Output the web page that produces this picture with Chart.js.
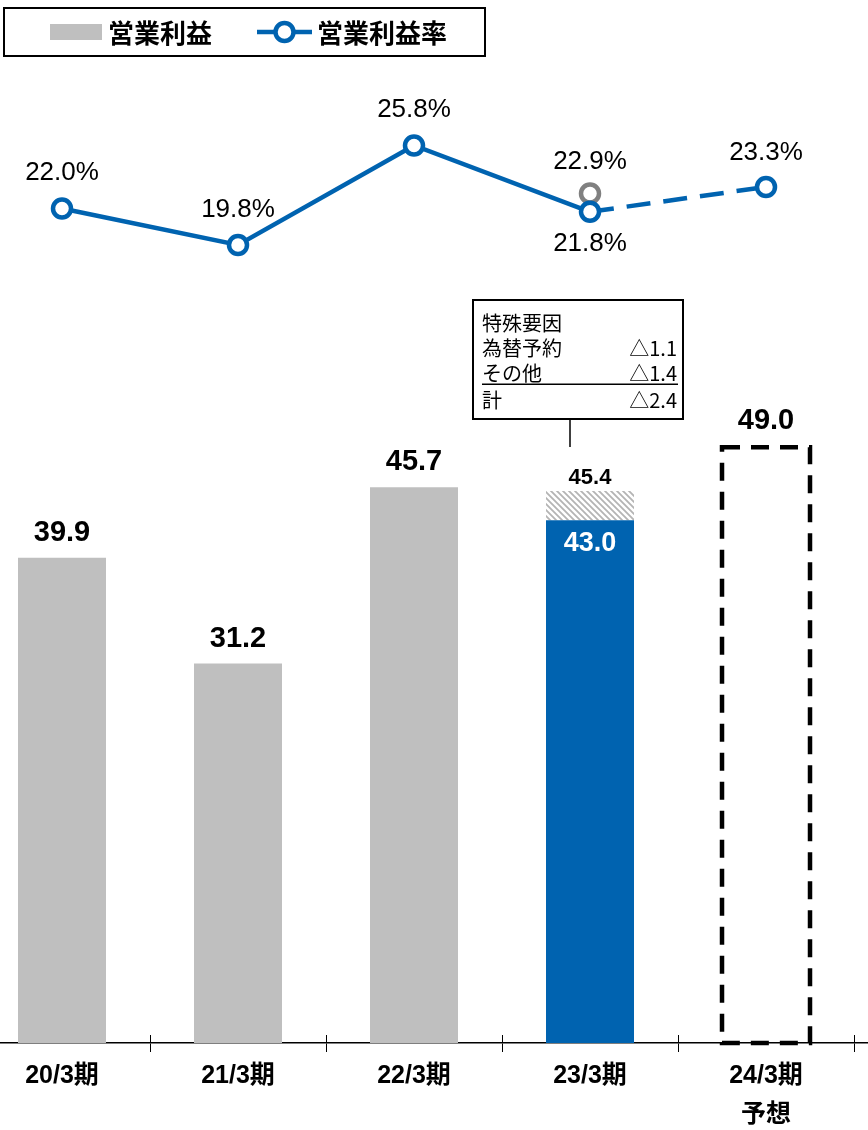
<!DOCTYPE html>
<html lang="ja">
<head>
<meta charset="utf-8">
<title>営業利益・営業利益率</title>
<script src="https://cdn.jsdelivr.net/npm/chart.js@4.4.0/dist/chart.umd.min.js"></script>
<style>
  html, body { margin: 0; padding: 0; background: #ffffff; }
  #wrap { width: 868px; height: 1130px; }
  canvas { display: block; }
</style>
</head>
<body>
<div id="wrap"><canvas id="chart" width="868" height="1130"></canvas></div>
<script>
// ---- data ----
const periods = ['20/3期', '21/3期', '22/3期', '23/3期', '24/3期'];
const periodNotes = ['', '', '', '', '予想'];
const profitActual = [39.9, 31.2, 45.7, 43.0];      // 営業利益 (20/3期〜23/3期)
const profitExSpecial = 45.4;                      // 23/3期 特殊要因を除く
const profitForecast = 49.0;                       // 24/3期 予想
const marginRate = [22.0, 19.8, 25.8, 21.8, 23.3]; // 営業利益率 (%)
const marginExSpecial = 22.9;                      // 23/3期 特殊要因を除く (%)
const specialFactorRows = ['特殊要因', '為替予約', 'その他', '計'];
const specialFactorValues = ['', '△1.1', '△1.4', '△2.4'];

// ---- colours ----
const BLUE = '#0063b0';
const GRAY = '#bfbfbf';
const RING_GRAY = '#808080';

const lastActual = profitActual.length - 1;
const forecastIdx = periods.length - 1;

const canvas = document.getElementById('chart');
const ctx0 = canvas.getContext('2d');

function hatchPattern() {
  const s = 6;
  const c = document.createElement('canvas');
  c.width = s; c.height = s;
  const g = c.getContext('2d');
  g.fillStyle = '#ffffff';
  g.fillRect(0, 0, s, s);
  g.strokeStyle = '#b4b4b4';
  g.lineWidth = 1.8;
  g.beginPath();
  g.moveTo(-s, 0); g.lineTo(s, 2 * s);
  g.moveTo(0, 0); g.lineTo(s, s);
  g.moveTo(0, -s); g.lineTo(2 * s, s);
  g.stroke();
  return ctx0.createPattern(c, 'repeat');
}

// value labels next to bars / points
const valueLabelPlugin = {
  id: 'valueLabels',
  afterDatasetsDraw(chart) {
    const ctx = chart.ctx;
    chart.data.datasets.forEach((ds, di) => {
      const cfg = ds.valueLabel;
      if (!cfg) return;
      const meta = chart.getDatasetMeta(di);
      meta.data.forEach((el, i) => {
        const raw = ds.data[i].y;
        const v = Array.isArray(raw) ? raw[1] : raw;
        const off = Array.isArray(cfg.offset) ? cfg.offset[i] : cfg.offset;
        ctx.save();
        ctx.font = cfg.font;
        ctx.fillStyle = cfg.color;
        ctx.textAlign = 'center';
        ctx.textBaseline = 'middle';
        ctx.fillText(v.toFixed(1) + (cfg.suffix || ''), el.x, el.y + off);
        ctx.restore();
      });
    });
  }
};

// dashed outline for the forecast bar
const dashedBarPlugin = {
  id: 'dashedBar',
  afterDatasetsDraw(chart) {
    const ctx = chart.ctx;
    chart.data.datasets.forEach((ds, di) => {
      if (!ds.dashedOutline) return;
      chart.getDatasetMeta(di).data.forEach(el => {
        const p = el.getProps(['x', 'y', 'base', 'width'], true);
        ctx.save();
        ctx.strokeStyle = '#000000';
        ctx.lineWidth = 4.5;
        ctx.setLineDash([18, 11]);
        ctx.strokeRect(p.x - p.width / 2, p.y, p.width, p.base - p.y);
        ctx.restore();
      });
    });
  }
};

// tick marks that cross the category axis line
const crossTickPlugin = {
  id: 'crossTicks',
  afterDraw(chart) {
    const x = chart.scales.x;
    const ctx = chart.ctx;
    const bottom = chart.chartArea.bottom;
    ctx.save();
    ctx.strokeStyle = '#000000';
    ctx.lineWidth = 1;
    periods.forEach((p, i) => {
      const px = Math.round(x.getPixelForValue(i + 0.5)) + 0.5;
      if (px > chart.chartArea.right) return;
      ctx.beginPath();
      ctx.moveTo(px, bottom - 8);
      ctx.lineTo(px, bottom);
      ctx.stroke();
    });
    ctx.restore();
  }
};

// boxed legend at top-left
const boxedLegendPlugin = {
  id: 'boxedLegend',
  afterDraw(chart, args, o) {
    const ctx = chart.ctx;
    const barDs = chart.data.datasets.find(d => d.id === 'profit');
    const rateDs = chart.data.datasets.find(d => d.id === 'rate');
    const cy = o.top + o.height / 2;
    ctx.save();
    ctx.lineWidth = 2;
    ctx.strokeStyle = '#000000';
    ctx.strokeRect(o.left, o.top, o.width, o.height);

    ctx.fillStyle = barDs.backgroundColor;
    ctx.fillRect(o.barSwatchX, cy - 8, 52, 16);
    ctx.font = o.font;
    ctx.fillStyle = '#000000';
    ctx.textAlign = 'left';
    ctx.textBaseline = 'middle';
    ctx.fillText(barDs.label, o.barTextX, cy + 1);

    ctx.strokeStyle = rateDs.borderColor;
    ctx.lineWidth = rateDs.borderWidth;
    ctx.beginPath();
    ctx.moveTo(o.lineSwatchX, cy);
    ctx.lineTo(o.lineSwatchX + 55, cy);
    ctx.stroke();
    ctx.beginPath();
    ctx.arc(o.lineSwatchX + 27.5, cy, rateDs.pointRadius, 0, Math.PI * 2);
    ctx.fillStyle = rateDs.pointBackgroundColor;
    ctx.fill();
    ctx.lineWidth = rateDs.pointBorderWidth;
    ctx.strokeStyle = rateDs.pointBorderColor;
    ctx.stroke();
    ctx.fillStyle = '#000000';
    ctx.fillText(rateDs.label, o.lineTextX, cy + 1);
    ctx.restore();
  }
};

// callout listing the special factors of 23/3期
const calloutPlugin = {
  id: 'specialCallout',
  afterDatasetsDraw(chart, args, o) {
    const ctx = chart.ctx;
    ctx.save();
    ctx.fillStyle = '#ffffff';
    ctx.fillRect(o.left, o.top, o.width, o.height);
    ctx.lineWidth = 2;
    ctx.strokeStyle = '#000000';
    ctx.strokeRect(o.left, o.top, o.width, o.height);
    // leader line
    ctx.lineWidth = 1.5;
    ctx.beginPath();
    ctx.moveTo(o.leaderX, o.top + o.height);
    ctx.lineTo(o.leaderX, o.top + o.height + o.leaderLen);
    ctx.stroke();
    // rows
    ctx.font = o.font;
    ctx.fillStyle = '#000000';
    ctx.textBaseline = 'middle';
    specialFactorRows.forEach((t, i) => {
      const y = o.top + o.firstRow + i * o.rowGap + (i === specialFactorRows.length - 1 ? 2 : 0);
      ctx.textAlign = 'left';
      ctx.fillText(t, o.left + 9, y);
      ctx.textAlign = 'right';
      ctx.fillText(specialFactorValues[i], o.left + o.width - 6, y);
    });
    // rule above the total
    const ry = o.top + o.firstRow + (specialFactorRows.length - 1.55) * o.rowGap;
    ctx.lineWidth = 1.5;
    ctx.beginPath();
    ctx.moveTo(o.left + 9, ry);
    ctx.lineTo(o.left + o.width - 5, ry);
    ctx.stroke();
    ctx.restore();
  }
};

const pts = (vals, start) => vals.map((v, i) => ({ x: start + i, y: v }));

const chart = new Chart(canvas, {
  type: 'bar',
  data: {
    datasets: [
      {
        id: 'rate',
        type: 'line',
        label: '営業利益率',
        data: pts(marginRate, 0),
        yAxisID: 'yRate',
        order: 0,
        borderColor: BLUE,
        borderWidth: 4.5,
        pointRadius: 9,
        pointHoverRadius: 9,
        pointBorderWidth: 4.5,
        pointBackgroundColor: '#ffffff',
        pointBorderColor: BLUE,
        tension: 0,
        segment: {
          borderDash: c => (c.p1DataIndex === forecastIdx ? [24, 13] : undefined)
        },
        valueLabel: {
          font: '26px "Liberation Sans", Arial, sans-serif',
          color: '#000000',
          suffix: '%',
          offset: [-36, -35, -36, 32, -34]
        }
      },
      {
        id: 'rateEx',
        type: 'line',
        label: '営業利益率（特殊要因除く）',
        data: [{ x: lastActual, y: marginExSpecial }],
        yAxisID: 'yRate',
        order: 1,
        showLine: false,
        pointRadius: 9,
        pointHoverRadius: 9,
        pointBorderWidth: 4.5,
        pointBackgroundColor: '#ffffff',
        pointBorderColor: RING_GRAY,
        valueLabel: {
          font: '26px "Liberation Sans", Arial, sans-serif',
          color: '#000000',
          suffix: '%',
          offset: -32
        }
      },
      {
        id: 'profit',
        label: '営業利益',
        data: pts(profitActual.slice(0, lastActual), 0),
        backgroundColor: GRAY,
        order: 2,
        valueLabel: {
          font: 'bold 29px "Liberation Sans", Arial, sans-serif',
          color: '#000000',
          offset: -25
        }
      },
      {
        id: 'profitLatest',
        label: '営業利益 23/3期',
        data: [{ x: lastActual, y: profitActual[lastActual] }],
        backgroundColor: BLUE,
        order: 2,
        valueLabel: {
          font: 'bold 27px "Liberation Sans", Arial, sans-serif',
          color: '#ffffff',
          offset: 23
        }
      },
      {
        id: 'special',
        label: '特殊要因',
        data: [{ x: lastActual, y: [profitActual[lastActual], profitExSpecial] }],
        backgroundColor: hatchPattern(),
        order: 2,
        valueLabel: {
          font: 'bold 22px "Liberation Sans", Arial, sans-serif',
          color: '#000000',
          offset: -13
        }
      },
      {
        id: 'forecast',
        label: '営業利益 予想',
        data: [{ x: forecastIdx, y: profitForecast }],
        backgroundColor: 'rgba(0,0,0,0)',
        order: 2,
        dashedOutline: true,
        valueLabel: {
          font: 'bold 29px "Liberation Sans", Arial, sans-serif',
          color: '#000000',
          offset: -26
        }
      }
    ]
  },
  options: {
    responsive: false,
    animation: false,
    devicePixelRatio: 1,
    events: [],
    layout: { autoPadding: false, padding: { top: 60, left: 0, right: 0, bottom: 0 } },
    datasets: {
      bar: { grouped: false, barPercentage: 0.5, categoryPercentage: 1.0, borderWidth: 0 }
    },
    scales: {
      x: {
        type: 'linear',
        min: -0.3523,
        max: 4.5795,
        offset: false,
        bounds: 'data',
        afterBuildTicks: s => { s.ticks = periods.map((p, i) => ({ value: i })); },
        afterFit: s => {
          s.height = 87;
          s.paddingLeft = 0;
          s.paddingRight = 0;
        },
        grid: {
          display: true,
          offset: true,
          drawOnChartArea: false,
          drawTicks: true,
          tickLength: 9,
          color: '#000000',
          lineWidth: 1
        },
        border: { display: true, color: '#000000', width: 1.5 },
        ticks: {
          autoSkip: false,
          maxRotation: 0,
          minRotation: 0,
          padding: 5,
          color: '#000000',
          font: { family: '"Liberation Sans", "Noto Sans CJK JP", sans-serif', size: 25, weight: 'bold', lineHeight: '39px' },
          callback: v => (periodNotes[v] ? [periods[v], periodNotes[v]] : periods[v])
        }
      },
      y: {
        display: false,
        min: 0,
        max: 80.84
      },
      yRate: {
        type: 'linear',
        display: false,
        position: 'right',
        min: -28.36,
        max: 30.96
      }
    },
    plugins: {
      legend: { display: false },
      tooltip: { enabled: false },
      boxedLegend: {
        left: 4, top: 8, width: 481, height: 48,
        barSwatchX: 50, barTextX: 108,
        lineSwatchX: 257, lineTextX: 317,
        font: 'bold 26px "Noto Sans CJK JP", sans-serif'
      },
      specialCallout: {
        left: 473, top: 300, width: 210, height: 119,
        leaderX: 570, leaderLen: 28,
        firstRow: 23, rowGap: 25,
        font: '20px "Noto Sans CJK JP", sans-serif'
      }
    }
  },
  plugins: [valueLabelPlugin, dashedBarPlugin, crossTickPlugin, boxedLegendPlugin, calloutPlugin]
});
</script>
</body>
</html>
